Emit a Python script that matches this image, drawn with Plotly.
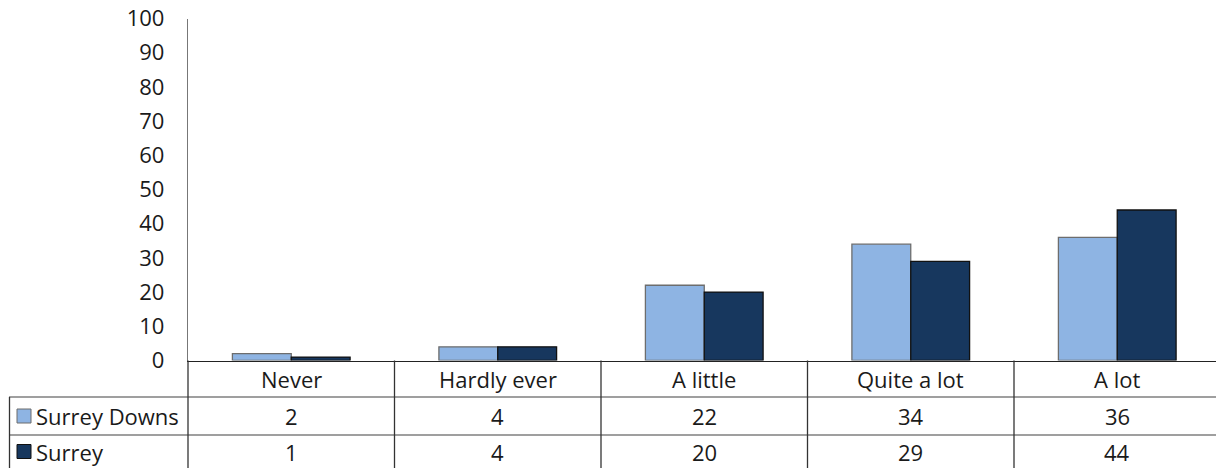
import plotly.graph_objects as go

categories = ["Never", "Hardly ever", "A little", "Quite a lot", "A lot"]
series_names = ["Surrey Downs", "Surrey"]
surrey_downs = [2, 4, 22, 34, 36]
surrey = [1, 4, 20, 29, 44]
y_ticks = [0, 10, 20, 30, 40, 50, 60, 70, 80, 90, 100]

W, H = 1216, 468
FONT = "Open Sans"
FS = 22
LIGHT = "#8EB4E3"
DARK = "#17375E"

def px(x):
    return x / W

def py(y):
    return (H - y) / H

fig = go.Figure()
fig.add_bar(x=categories, y=surrey_downs, name=series_names[0],
            marker=dict(color=LIGHT, line=dict(color="#6d6d6d", width=1.3)))
fig.add_bar(x=categories, y=surrey, name=series_names[1],
            marker=dict(color=DARK, line=dict(color="#111111", width=1.3)))

axis_left = 188
y_top, y_zero = 18.5, 360.5
row1, row2, bottom = 397, 435, 470

shapes = []
for yy in (row1, row2):
    shapes.append(dict(type="line", xref="paper", yref="paper",
                       x0=px(9), x1=1, y0=py(yy), y1=py(yy),
                       line=dict(color="#7f7f7f", width=1.3)))
shapes.append(dict(type="line", xref="paper", yref="paper",
                   x0=px(9.5), x1=px(9.5), y0=py(row1), y1=py(bottom),
                   line=dict(color="#333333", width=1.3)))
shapes.append(dict(type="line", xref="paper", yref="paper",
                   x0=px(axis_left), x1=px(axis_left), y0=py(y_zero), y1=py(bottom),
                   line=dict(color="#333333", width=1.3)))
for i in range(len(categories) - 1):
    shapes.append(dict(type="line", xref="x", yref="paper",
                       x0=i + 0.5, x1=i + 0.5, y0=py(y_zero), y1=py(bottom),
                       line=dict(color="#333333", width=1.3)))

annotations = []
txt = dict(family=FONT, size=FS, color="#1a1a1a")
for i, c in enumerate(categories):
    annotations.append(dict(x=i, y=py((y_zero + row1) / 2), xref="x", yref="paper",
                            text=c, showarrow=False, font=txt,
                            xanchor="center", yanchor="middle"))
    annotations.append(dict(x=i, y=py((row1 + row2) / 2), xref="x", yref="paper",
                            text=str(surrey_downs[i]), showarrow=False, font=txt,
                            xanchor="center", yanchor="middle"))
    annotations.append(dict(x=i, y=py(451.5), xref="x", yref="paper",
                            text=str(surrey[i]), showarrow=False, font=txt,
                            xanchor="center", yanchor="middle"))

for name, color, edge, cy in [
        (series_names[0], LIGHT, "#6d6d6d", (row1 + row2) / 2),
        (series_names[1], DARK, "#111111", 451.5)]:
    shapes.append(dict(type="rect", xref="paper", yref="paper",
                       x0=px(17), x1=px(31), y0=py(cy - 7), y1=py(cy + 7),
                       fillcolor=color, line=dict(color=edge, width=1)))
    annotations.append(dict(x=px(34), y=py(cy), xref="paper", yref="paper",
                            text=name, showarrow=False, font=txt,
                            xanchor="left", yanchor="middle"))

cat_w = 206.5
span = (W - axis_left) / cat_w

fig.update_layout(
    width=W, height=H,
    margin=dict(l=0, r=0, t=0, b=0, autoexpand=False),
    paper_bgcolor="white", plot_bgcolor="white",
    showlegend=False,
    barmode="group", bargap=0.43, bargroupgap=0,
    font=dict(family=FONT, size=FS, color="#1a1a1a"),
    xaxis=dict(domain=[px(axis_left), 1], range=[-0.5, -0.5 + span],
               showticklabels=False, ticks="", showgrid=False, zeroline=False,
               showline=True, linecolor="#222222", linewidth=1.3),
    yaxis=dict(domain=[py(y_zero), py(y_top)], range=[0, 100],
               tickvals=y_ticks, ticks="outside", ticklen=18,
               tickcolor="rgba(0,0,0,0)", showgrid=False, zeroline=False,
               showline=True, linecolor="#777777", linewidth=1.3,
               tickfont=dict(family=FONT, size=FS, color="#1a1a1a"),
               automargin=False),
    shapes=shapes, annotations=annotations,
)

fig.write_html("out.html",
               config={"displayModeBar": False},
               post_script="document.body.style.margin='0';document.body.style.overflow='hidden';")
